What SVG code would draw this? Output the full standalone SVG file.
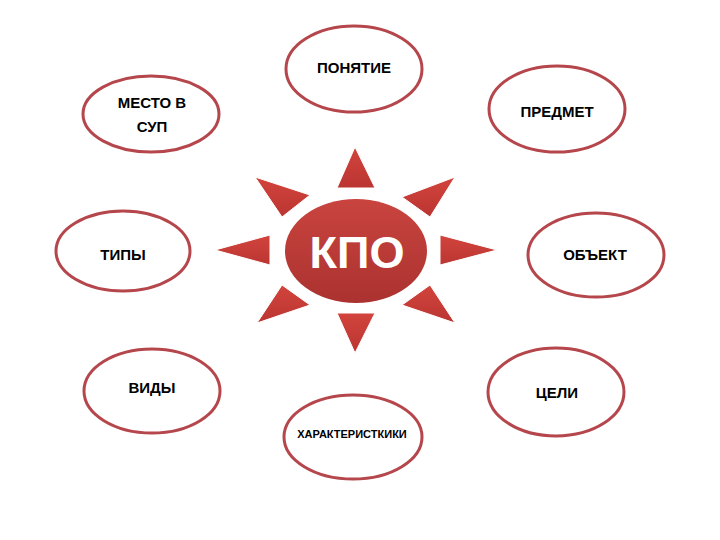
<svg xmlns="http://www.w3.org/2000/svg" width="720" height="540" viewBox="0 0 720 540">
<defs>
<linearGradient id="core" x1="0" y1="0" x2="0" y2="1">
<stop offset="0" stop-color="#c9443f"/>
<stop offset="1" stop-color="#ab3230"/>
</linearGradient>
<linearGradient id="ray" x1="0" y1="0" x2="0" y2="1">
<stop offset="0" stop-color="#d2443d"/>
<stop offset="1" stop-color="#bb3531"/>
</linearGradient>
</defs>
<style>
.oval{fill:#ffffff;stroke:#b5474c;stroke-width:3}
.lbl{font-family:"Liberation Sans",Arial,sans-serif;font-weight:bold;font-size:15px;fill:#000;text-anchor:middle}
.ray{fill:url(#ray);stroke:#ffffff;stroke-width:1}
.kpo{font-family:"Liberation Sans",Arial,sans-serif;font-weight:bold;font-size:45px;fill:#ffffff;text-anchor:middle}
</style>
<rect width="720" height="540" fill="#ffffff"/>
<g id="connectors"/>
<g id="kpo">
<g id="rays">
<polygon class="ray" points="355,147 337,188 375,188"/>
<polygon class="ray" points="355,353 337,313 375,313"/>
<polygon class="ray" points="215,250 270,235 270,265"/>
<polygon class="ray" points="497,250 440,235 440,265"/>
<polygon class="ray" points="255,177 310,195 282,217"/>
<polygon class="ray" points="455,177 402,197 430,217"/>
<polygon class="ray" points="257,323 282,285 310,305"/>
<polygon class="ray" points="455,323 430,285 402,305"/>
</g>
<ellipse cx="356" cy="251" rx="71" ry="52" fill="url(#core)"/>
<text class="kpo" x="357" y="268" textLength="95" lengthAdjust="spacingAndGlyphs">КПО</text>
</g>
<g id="ponyatie">
<ellipse class="oval" cx="354" cy="69" rx="68" ry="43"/>
<text class="lbl" x="354" y="73">ПОНЯТИЕ</text>
</g>
<g id="mesto">
<ellipse class="oval" cx="151" cy="114" rx="68" ry="38"/>
<text class="lbl" x="152" y="108">МЕСТО В</text>
<text class="lbl" x="152" y="132">СУП</text>
</g>
<g id="predmet">
<ellipse class="oval" cx="557" cy="109" rx="68" ry="43"/>
<text class="lbl" x="557" y="117">ПРЕДМЕТ</text>
</g>
<g id="tipy">
<ellipse class="oval" cx="123" cy="251" rx="67" ry="40"/>
<text class="lbl" x="123" y="260">ТИПЫ</text>
</g>
<g id="obekt">
<ellipse class="oval" cx="596" cy="255" rx="68" ry="42"/>
<text class="lbl" x="595" y="260">ОБЪЕКТ</text>
</g>
<g id="vidy">
<ellipse class="oval" cx="152" cy="391" rx="68" ry="42"/>
<text class="lbl" x="152" y="393">ВИДЫ</text>
</g>
<g id="tseli">
<ellipse class="oval" cx="556" cy="392" rx="68" ry="44"/>
<text class="lbl" x="557" y="398">ЦЕЛИ</text>
</g>
<g id="harakteristiki">
<ellipse class="oval" cx="353" cy="437" rx="69" ry="42"/>
<text class="lbl" x="352" y="438" style="font-size:11px">ХАРАКТЕРИСТКИКИ</text>
</g>
</svg>
